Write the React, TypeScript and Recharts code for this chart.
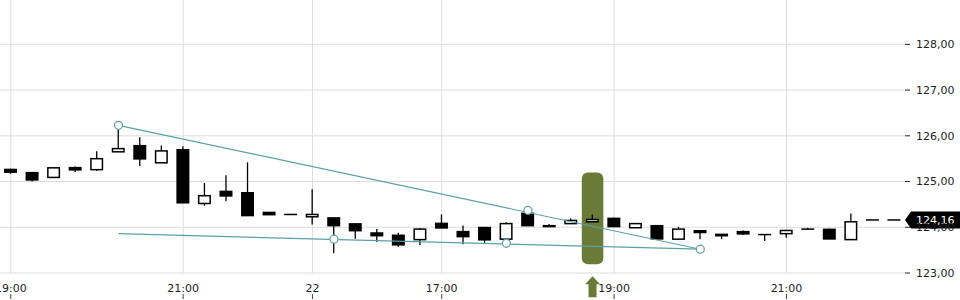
import React from 'react';
import {
  ComposedChart,
  Bar,
  XAxis,
  YAxis,
  CartesianGrid,
  ReferenceLine,
  ReferenceDot,
  ReferenceArea,
} from 'recharts';

const categories = [
  '21 19:00', '21 19:15', '21 19:30', '21 19:45', '21 20:00', '21 20:15', '21 20:30',
  '21 20:45', '21 21:00', '21 21:15', '21 21:30', '21 21:45', '21 22:00', '21 22:15',
  '22 15:30', '22 15:45', '22 16:00', '22 16:15', '22 16:30', '22 16:45', '22 17:00',
  '22 17:15', '22 17:30', '22 17:45', '22 18:00', '22 18:15', '22 18:30', '22 18:45',
  '22 19:00', '22 19:15', '22 19:30', '22 19:45', '22 20:00', '22 20:15', '22 20:30',
  '22 20:45', '22 21:00', '22 21:15', '22 21:30', '22 21:45', '22 22:00', '22 22:15',
];

const opens = [
  125.27, 125.2, 125.09, 125.31, 125.26, 125.65, 125.79, 125.41, 125.7, 124.52, 124.79,
  124.76, 124.33, 124.28, 124.23, 124.21, 124.08, 123.88, 123.83, 123.73, 124.09, 123.91,
  124.0, 123.74, 124.31, 124.04, 124.08, 124.12, 124.2, 123.99, 124.04, 123.74, 123.93,
  123.85, 123.91, 123.84, 123.86, 123.96, 123.96, 123.73, 124.16, 124.16,
];
const highs = [
  125.28, 125.2, 125.3, 125.33, 125.66, 126.23, 125.97, 125.79, 125.77, 124.97, 125.14,
  125.42, 124.33, 124.28, 124.83, 124.21, 124.08, 123.96, 123.88, 123.98, 124.28, 124.04,
  124.0, 124.11, 124.39, 124.07, 124.19, 124.28, 124.21, 124.08, 124.04, 124.01, 123.93,
  123.85, 123.93, 123.84, 123.93, 123.99, 123.97, 124.3, 124.16, 124.16,
];
const lows = [
  125.17, 125.0, 125.09, 125.21, 125.23, 125.65, 125.34, 125.41, 124.53, 124.47, 124.57,
  124.25, 124.27, 124.28, 124.06, 123.43, 123.75, 123.68, 123.57, 123.61, 123.98, 123.63,
  123.66, 123.72, 124.03, 124.01, 124.08, 124.12, 124.01, 123.99, 123.73, 123.74, 123.74,
  123.74, 123.83, 123.7, 123.77, 123.96, 123.74, 123.73, 124.16, 124.16,
];
const closes = [
  125.2, 125.03, 125.3, 125.25, 125.5, 125.72, 125.49, 125.67, 124.53, 124.69, 124.68,
  124.25, 124.27, 124.28, 124.28, 124.03, 123.92, 123.81, 123.61, 123.96, 123.98, 123.79,
  123.72, 124.08, 124.03, 124.01, 124.15, 124.17, 124.01, 124.08, 123.74, 123.96, 123.88,
  123.81, 123.85, 123.84, 123.93, 123.96, 123.74, 124.12, 124.16, 124.16,
];

const tickKeys = ['21 19:00', '21 21:00', '22 15:30', '22 17:00', '22 19:00', '22 21:00'];
const tickLabels = ['19:00', '21:00', '22', '17:00', '19:00', '21:00'];
const yTicks = [123, 124, 125, 126, 127, 128];

const Y_MIN = 123;
const Y_MAX = 128.97;
const LAST_PRICE = 124.16;

// trend lines: start category/price to end category/price
const upperLine = { x1: '21 20:15', y1: 126.23, x2: '22 20:00', y2: 123.52 };
const lowerLine = { x1: '21 20:15', y1: 123.86, x2: '22 20:00', y2: 123.52 };
const dotKeys = ['21 20:15', '22 15:45', '22 17:45', '22 18:00', '22 20:00'];
const dotPrices = [126.23, 123.74, 123.65, 124.37, 123.52];

const markerKey = '22 18:45';
const markerLow = 123.19;
const markerHigh = 125.2;

const TEAL = '#5c9fa6';
const OLIVE = '#6a7b37';
const TEXT = '#222222';
const GRID = '#dddddd';

const data = categories.map((t, i) => ({
  t,
  open: opens[i],
  high: highs[i],
  low: lows[i],
  close: closes[i],
}));

const fmt = (v: number) => v.toFixed(2).replace('.', ',');

const Candle = (props: any) => {
  const { x, y, width, height, payload } = props;
  if (!payload || width == null) return null;
  const k = height / (payload.high - Y_MIN);
  const py = (p: number) => y + (payload.high - p) * k;
  const cx = x + width / 2;
  const up = payload.close > payload.open;
  const top = py(Math.max(payload.open, payload.close));
  const bot = py(Math.min(payload.open, payload.close));
  const bh = bot - top;
  return (
    <g>
      {payload.high !== payload.low && (
        <line x1={cx} x2={cx} y1={py(payload.high)} y2={py(payload.low)} stroke="#000" strokeWidth={1.3} />
      )}
      {bh < 1 ? (
        <line x1={x} x2={x + width} y1={top} y2={top} stroke="#000" strokeWidth={1.5} />
      ) : up ? (
        <rect x={x + 0.75} y={top} width={width - 1.5} height={bh} fill="#fff" stroke="#000" strokeWidth={1.5} />
      ) : (
        <rect x={x} y={top - 0.5} width={width} height={bh + 1} fill="#000" />
      )}
    </g>
  );
};

const XTick = (props: any) => {
  const { x, y, payload } = props;
  const idx = tickKeys.indexOf(payload.value);
  const label = idx >= 0 ? tickLabels[idx] : '';
  return (
    <g>
      <text x={x} y={y + 16.5} textAnchor="middle" fontSize={11} fill={TEXT}>
        {label}
      </text>
      <line x1={x} x2={x} y1={y + 19} y2={y + 24} stroke="#444" strokeWidth={1} />
    </g>
  );
};

const Marker = (props: any) => {
  const { x, y, width, height } = props;
  if (x == null) return null;
  const cx = x + width / 2;
  const b = y + height;
  return (
    <g>
      <rect x={x} y={y} width={width} height={height} rx={6} ry={6} fill={OLIVE} />
      <polygon
        points={`${cx},${b + 12} ${cx + 7.5},${b + 20} ${cx + 4},${b + 20} ${cx + 4},${b + 33} ${cx - 4},${b + 33} ${cx - 4},${b + 20} ${cx - 7.5},${b + 20}`}
        fill={OLIVE}
      />
    </g>
  );
};

const Tag = (props: any) => {
  const vb = props.viewBox || {};
  const x = (vb.x || 0) + (vb.width || 0);
  const y = vb.y || 0;
  return (
    <g>
      <polygon
        points={`${x},${y} ${x + 6},${y - 8.5} ${x + 60},${y - 8.5} ${x + 60},${y + 8.5} ${x + 6},${y + 8.5}`}
        fill="#000"
      />
      <text x={x + 11} y={y + 4} fontSize={11} fill="#fff">
        {fmt(LAST_PRICE)}
      </text>
    </g>
  );
};

export default function App() {
  return (
    <div style={{ position: 'absolute', left: 0, top: 0, width: 960, height: 300, background: '#fff' }}>
      <ComposedChart
        width={960}
        height={300}
        data={data}
        margin={{ top: 0, right: 0, bottom: 0, left: 0 }}
        style={{ fontFamily: '"DejaVu Sans", sans-serif' }}
      >
        <CartesianGrid stroke={GRID} strokeWidth={1} syncWithTicks />
        <XAxis
          dataKey="t"
          type="category"
          ticks={tickKeys}
          interval={0}
          tick={<XTick />}
          axisLine={false}
          tickLine={false}
          tickSize={0}
          height={27}
        />
        <YAxis
          orientation="right"
          domain={[Y_MIN, Y_MAX]}
          allowDataOverflow
          ticks={yTicks}
          tickFormatter={fmt}
          width={55}
          axisLine={false}
          tickSize={5}
          tickMargin={6}
          tick={{ fontSize: 11, fill: TEXT }}
          tickLine={{ stroke: '#222' }}
        />
        <ReferenceLine
          segment={[{ x: upperLine.x1, y: upperLine.y1 }, { x: upperLine.x2, y: upperLine.y2 }]}
          stroke={TEAL}
          strokeWidth={1.2}
          ifOverflow="visible"
        />
        <ReferenceLine
          segment={[{ x: lowerLine.x1, y: lowerLine.y1 }, { x: lowerLine.x2, y: lowerLine.y2 }]}
          stroke={TEAL}
          strokeWidth={1.2}
          ifOverflow="visible"
        />
        <ReferenceArea
          x1={markerKey}
          x2={markerKey}
          y1={markerLow}
          y2={markerHigh}
          ifOverflow="visible"
          shape={(p: any) => <Marker {...p} />}
        />
        <Bar dataKey="high" barSize={13} isAnimationActive={false} shape={(p: any) => <Candle {...p} />} />
        {dotKeys.map((k, i) => (
          <ReferenceDot
            key={i}
            x={k}
            y={dotPrices[i]}
            r={4}
            fill="#fff"
            stroke={TEAL}
            strokeWidth={1.2}
            ifOverflow="visible"
          />
        ))}
        <ReferenceLine y={LAST_PRICE} stroke="none" ifOverflow="visible" label={(p: any) => <Tag {...p} />} />
      </ComposedChart>
    </div>
  );
}
